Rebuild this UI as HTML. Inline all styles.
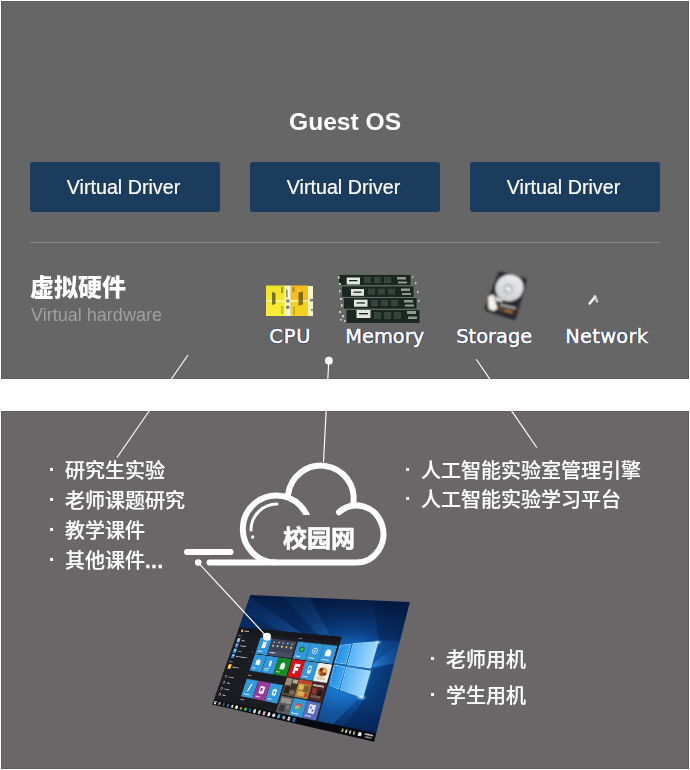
<!DOCTYPE html>
<html lang="zh-CN">
<head>
<meta charset="utf-8">
<title>Guest OS</title>
<style>
html,body{margin:0;padding:0;background:#fff;}
html{width:690px;height:770px;overflow:hidden;}
body{width:690px;height:770px;position:relative;overflow:hidden;font-family:"Liberation Sans","Noto Sans CJK SC",sans-serif;}
.panel{position:absolute;left:1px;width:688px;box-sizing:border-box;}
#top{top:1px;height:378px;background:#666666;border:1px solid #5e5e5e;}
#bot{top:411px;height:358px;background:#6b6768;border:1px solid #625e5f;}
.abs{position:absolute;white-space:nowrap;line-height:1;margin:0;}
.gs{will-change:transform;}
.btn{position:absolute;top:162px;width:190px;height:50px;border-radius:3px;background:#1c3c5e;color:#fff;font-size:19.7px;line-height:50px;text-align:center;text-indent:-3px;-webkit-text-stroke:0.2px #fff;}
.lbl{color:#fff;font-size:19.4px;font-family:"DejaVu Sans","Liberation Sans",sans-serif;-webkit-text-stroke:0.6px #fff;text-shadow:1.1px 0 0.4px rgba(18,30,70,.75), -1.1px 0 0.4px rgba(18,30,70,.6), 0 1.1px 0.4px rgba(18,30,70,.6), 0 -1px 0.4px rgba(18,30,70,.45);}
.li{color:#fff;font-size:20px;font-weight:500;height:20px;}
.li .t{-webkit-text-stroke:0.15px #fff;}
.li .d{font-weight:bold;letter-spacing:0.7px;-webkit-text-stroke:0.3px #fff;}
.li .b{position:absolute;left:1.1px;top:-1.7px;width:10px;text-align:center;font-weight:bold;font-size:20.5px;line-height:20px;}
.li .t{position:absolute;top:0;line-height:20px;}
#lines{position:absolute;left:0;top:0;width:690px;height:770px;}
#scr{position:absolute;left:200px;top:560px;width:300px;height:200px;transform-origin:0 0;transform:matrix3d(0.39093075,-0.00516008,0.00000000,-0.00067208,-0.19408620,0.50502413,0.00000000,-0.00029395,0.00000000,0.00000000,1.00000000,0.00000000,50.30000000,35.00000000,0.00000000,1.00000000);}
</style>
</head>
<body>
<div class="panel" id="top"></div>
<div class="panel" id="bot"></div>

<div class="abs gs" id="title" style="left:288.5px;top:110px;font-size:24.6px;font-weight:bold;color:#fff;">Guest OS</div>
<div class="btn gs" style="left:30px;">Virtual Driver</div>
<div class="btn gs" style="left:250px;">Virtual Driver</div>
<div class="btn gs" style="left:470px;">Virtual Driver</div>
<div class="abs" style="left:30px;top:242px;width:630px;height:1px;background:#8a8a8a;"></div>

<div class="abs gs" id="vh" style="left:29.5px;top:275.5px;font-size:24px;font-weight:900;color:#fff;">虚拟硬件</div>
<div class="abs gs" id="vh2" style="left:30.7px;top:306px;font-size:18.05px;color:#a0a0a0;">Virtual hardware</div>

<div class="abs lbl" id="l1" style="left:269.3px;top:327px;letter-spacing:0.8px;">CPU</div>
<div class="abs lbl" id="l2" style="left:345.3px;top:327px;">Memory</div>
<div class="abs lbl" id="l3" style="left:456.3px;top:327px;">Storage</div>
<div class="abs lbl" id="l4" style="left:565.2px;top:327px;letter-spacing:0.3px;">Network</div>

<svg id="lines" viewBox="0 0 690 770">
<!-- icons -->
<defs>
<filter id="soft" x="-10%" y="-10%" width="120%" height="120%"><feGaussianBlur stdDeviation="0.45"/></filter>
<filter id="soft3" x="-30%" y="-30%" width="160%" height="160%"><feGaussianBlur stdDeviation="0.55"/></filter>
<filter id="soft2" x="-20%" y="-20%" width="140%" height="140%"><feGaussianBlur stdDeviation="0.8"/></filter>
<linearGradient id="cpuL" x1="0" y1="0" x2="0" y2="1"><stop offset="0" stop-color="#efe226"/><stop offset="1" stop-color="#f7ee3a"/></linearGradient>
<linearGradient id="plat" x1="0" y1="1" x2="1" y2="0"><stop offset="0" stop-color="#c9cacd"/><stop offset="1" stop-color="#f1f1f2"/></linearGradient>
</defs>
<g id="cpu" filter="url(#soft)">
<rect x="266" y="285.5" width="19" height="30.5" fill="url(#cpuL)"/>
<rect x="284.8" y="285.5" width="6" height="30.5" fill="#fbf9da"/>
<rect x="290.8" y="285.5" width="17.7" height="15" fill="#f6bd1e"/>
<rect x="290.8" y="300.5" width="17.7" height="15.5" fill="#f5d020"/>
<rect x="308" y="286" width="5" height="30" fill="#f8f4cc"/>
<rect x="310" y="299" width="3.5" height="2.4" fill="#777"/>
<rect x="311" y="309" width="2.5" height="2" fill="#888"/>
<rect x="266" y="300" width="42" height="1.6" fill="#f7f3a4"/>
<rect x="286" y="289.5" width="1.6" height="8" fill="#8a8a80"/>
<circle cx="287.8" cy="301" r="1.8" fill="#777"/>
<circle cx="287.8" cy="307.3" r="1.8" fill="#777"/>
<path d="M272 292 l3.5 1 v11 l-3.5 1z" fill="#55550c" opacity=".8"/>
<path d="M281 287 h2.2 v6 h-2.2z" fill="#6a6a10" opacity=".6"/>
<path d="M281 306 h2.2 v8 h-2.2z" fill="#8a8a10" opacity=".45"/>
<path d="M298.5 292.5 l4.5 -1 v13 l-4.5 1z" fill="#5a4a0c" opacity=".75"/>
<path d="M292.5 287 h2 v5 h-2z" fill="#6a5a10" opacity=".55"/>
<path d="M293 307 h2 v8 h-2z" fill="#8a7a10" opacity=".4"/>
</g>
<g id="mem" filter="url(#soft)">
<g fill="#1d2821" stroke="#6d7d6f" stroke-width="0.7">
<rect x="338.5" y="274.3" width="72.5" height="11.5"/>
<rect x="341.5" y="286" width="72.5" height="11.3"/>
<rect x="343.5" y="297.6" width="73.5" height="11.5"/>
<rect x="346" y="309.5" width="74" height="13.8"/>
</g>
<g fill="#e2e6e2">
<rect x="346.7" y="277.5" width="13.3" height="7"/>
<rect x="351" y="289" width="13" height="6.8"/>
<rect x="354" y="299.7" width="13.5" height="7"/>
<rect x="356.5" y="310" width="14" height="8"/>
</g>
<g fill="#1d2821">
<rect x="349" y="280" width="8.5" height="1.3"/><rect x="353.5" y="291.5" width="8" height="1.3"/><rect x="356.5" y="302.3" width="8.5" height="1.3"/><rect x="359" y="313" width="9" height="1.4"/>
</g>
<g fill="#35443a">
<rect x="364" y="277" width="7" height="6"/><rect x="374" y="277" width="7" height="6"/><rect x="384" y="277" width="7" height="6"/>
<rect x="368" y="288.5" width="7" height="6"/><rect x="378" y="288.5" width="7" height="6"/><rect x="388" y="288.5" width="7" height="6"/>
<rect x="371" y="300" width="7" height="6"/><rect x="381" y="300" width="7" height="6"/><rect x="391" y="300" width="7" height="6"/>
<rect x="374" y="312" width="7" height="7"/><rect x="384" y="312" width="7" height="7"/><rect x="394" y="312" width="7" height="7"/>
</g>
<g fill="#8f9b91">
<rect x="397" y="277" width="9" height="2.5"/><rect x="398" y="281.5" width="9" height="2"/>
<rect x="401" y="288.5" width="9" height="2.5"/><rect x="402" y="293" width="9" height="2"/>
<rect x="404" y="300" width="9" height="2.5"/><rect x="405" y="304.5" width="9" height="2"/>
<rect x="407" y="311" width="9" height="3"/><rect x="408" y="316.5" width="9" height="2.5"/>
</g>
<g fill="#dfe8df" opacity=".8">
<rect x="338" y="276" width="1.5" height="3"/><rect x="339" y="283" width="2" height="2"/><rect x="339" y="290" width="1.5" height="2.5"/><rect x="340" y="298" width="2" height="2"/><rect x="341" y="304" width="1.6" height="3"/><rect x="339" y="311" width="2" height="2"/><rect x="342" y="315" width="2" height="2.5"/><rect x="340" y="319" width="2" height="1.6"/><rect x="344" y="320" width="1.5" height="2"/>
<rect x="412" y="276" width="1.5" height="1.5"/><rect x="415" y="282" width="1.5" height="2"/><rect x="417" y="291" width="1.5" height="2"/><rect x="418" y="300" width="1.5" height="2"/>
</g>
</g>
<g id="hdd" filter="url(#soft2)">
<polygon points="498,273 500.5,271.5 526,278.5 526.5,281 516,319 513.5,320 486,311 484.5,308.5" fill="#2a2c2e"/>
<polygon points="498,275 524,281.5 519,300 492,296" fill="#34373a"/>
<ellipse cx="509.6" cy="288" rx="14" ry="13.2" fill="url(#plat)" transform="rotate(-20 509.3 288.3)"/>
<circle cx="508.3" cy="288.8" r="4.2" fill="#e4e4e6" stroke="#a4a6aa" stroke-width="1.1"/>
<circle cx="508.3" cy="288.8" r="2" fill="#fafafa"/><circle cx="506.6" cy="290.6" r="0.9" fill="#77797d"/><circle cx="510.4" cy="287.6" r="0.9" fill="#77797d"/><circle cx="507" cy="286.6" r="0.8" fill="#8a8c90"/>
<polygon points="488,296.5 493.5,294.5 497.5,308.5 493.5,311 488.5,308.5" fill="#f3f1eb"/>
<polygon points="494.5,296 503,299.5 502,302 496,301" fill="#d9d9d6"/>
<polygon points="499,306 514,310.5 513,314 498.5,310" fill="#5a4630"/>
<polygon points="500,303.5 516,307.5 515.5,309.5 499.5,305.5" fill="#a9a9a4"/>
<polygon points="505,309.4 512,311.4 511.7,313.2 504.7,311.2" fill="#b8743c"/>
</g>
<g id="net" filter="url(#soft3)">
<path d="M589.6 303.6 L594.6 297.4" stroke="#fcfcfc" stroke-width="2.4" stroke-linecap="round"/>
<path d="M595.2 296.2 L597.4 301.6" stroke="#bcc6e6" stroke-width="2" stroke-linecap="round"/>
<circle cx="596.4" cy="300.6" r="1.3" fill="#e6c0b6"/>
<circle cx="594.8" cy="296.6" r="1.3" fill="#d6f0ec"/>
</g>
<!-- connector lines -->
<g stroke="#fff" stroke-width="1.15" fill="none">
<line x1="188" y1="355" x2="117" y2="457.5"/>
<line x1="328.8" y1="360.5" x2="323.5" y2="462"/>
<line x1="476.2" y1="359.2" x2="536.9" y2="447.8"/>
</g>
<circle cx="328.9" cy="360.7" r="3.9" fill="#fff"/>
<circle cx="198.2" cy="562.6" r="3.3" fill="#fff"/>
<!-- mask the gap -->
<rect x="0" y="379" width="690" height="32" fill="#fff"/>
<!-- cloud -->
<clipPath id="clipL"><rect x="230" y="480" width="100" height="35"/><rect x="230" y="515" width="55" height="60"/></clipPath>
<g stroke="#fff" stroke-width="6" fill="none" stroke-linecap="round">
<line x1="187" y1="552" x2="230.5" y2="552"/>
<path d="M209.5 562.5 H356.4 A27 28.5 0 1 0 339 512.2"/>
<path d="M276.3 562.6 A33.5 33.5 0 1 1 309.8 529.1" clip-path="url(#clipL)" stroke-linecap="butt"/>
<path d="M288.2 494 A32.6 32.6 0 0 1 353.4 503"/>
</g>
<path d="M251 530 A26 26 0 0 1 277 504" stroke="#fff" stroke-width="3" fill="none" stroke-linecap="round"/>
<circle cx="252.7" cy="537" r="1.7" fill="#fff"/>
</svg>

<div class="abs gs" id="cloudtxt" style="left:283.2px;top:527.2px;font-size:24px;font-weight:bold;-webkit-text-stroke:0.6px #fff;color:#fff;font-family:'Liberation Sans','Noto Sans CJK SC',sans-serif;">校园网</div>




<div class="abs li gs" id="a1" style="left:46.3px;top:460.7px;"><span class="b">·</span><span class="t" style="left:18.9px">研究生实验</span></div>
<div class="abs li gs" id="a2" style="left:46.3px;top:490.7px;"><span class="b">·</span><span class="t" style="left:18.9px">老师课题研究</span></div>
<div class="abs li gs" id="a3" style="left:46.3px;top:520.7px;"><span class="b">·</span><span class="t" style="left:18.9px">教学课件</span></div>
<div class="abs li gs" id="a4" style="left:46.3px;top:550.7px;"><span class="b">·</span><span class="t" style="left:18.9px">其他课件<span class="d">...</span></span></div>
<div class="abs li gs" id="b1" style="left:401.8px;top:460.7px;"><span class="b">·</span><span class="t" style="left:19.0px">人工智能实验室管理引擎</span></div>
<div class="abs li gs" id="b2" style="left:401.8px;top:490.2px;"><span class="b">·</span><span class="t" style="left:19.0px">人工智能实验学习平台</span></div>
<div class="abs li gs" id="c1" style="left:427.3px;top:650px;"><span class="b">·</span><span class="t" style="left:19px">老师用机</span></div>
<div class="abs li gs" id="c2" style="left:427.3px;top:686px;"><span class="b">·</span><span class="t" style="left:19px">学生用机</span></div>
<div id="scr"><svg width="300" height="200" viewBox="0 0 300 200">
<defs>
<radialGradient id="bg" cx="230" cy="110" r="120" gradientUnits="userSpaceOnUse">
<stop offset="0" stop-color="#2f9cec"/><stop offset="0.16" stop-color="#1c80d6"/><stop offset="0.32" stop-color="#1262b6"/><stop offset="0.52" stop-color="#0c4892"/><stop offset="0.76" stop-color="#0a3878"/><stop offset="1" stop-color="#082d66"/>
</radialGradient>
<linearGradient id="paneR" x1="0" y1="0" x2="1" y2="0">
<stop offset="0" stop-color="#55b2f4"/><stop offset="1" stop-color="#a4dafd"/>
</linearGradient>
<linearGradient id="paneL" x1="0" y1="0" x2="1" y2="0">
<stop offset="0" stop-color="#2590e6"/><stop offset="1" stop-color="#3ea6f0"/>
</linearGradient>
<linearGradient id="beamL" x1="226" y1="104" x2="40" y2="20" gradientUnits="userSpaceOnUse">
<stop offset="0" stop-color="#57b6ff" stop-opacity=".6"/><stop offset=".5" stop-color="#2a7ed6" stop-opacity=".35"/><stop offset="1" stop-color="#1a5fb4" stop-opacity=".12"/>
</linearGradient>
<linearGradient id="beamR" x1="262" y1="104" x2="300" y2="75" gradientUnits="userSpaceOnUse">
<stop offset="0" stop-color="#57b6ff" stop-opacity=".5"/><stop offset="1" stop-color="#1a6ac0" stop-opacity=".1"/>
</linearGradient>
<linearGradient id="dark" x1="0" y1="0" x2="0" y2="1">
<stop offset="0" stop-color="#04163a" stop-opacity=".8"/><stop offset=".14" stop-color="#04163a" stop-opacity=".4"/><stop offset=".34" stop-color="#04163a" stop-opacity="0"/><stop offset=".75" stop-color="#04163a" stop-opacity="0"/><stop offset="1" stop-color="#04163a" stop-opacity=".45"/>
</linearGradient>
<radialGradient id="flare" cx=".5" cy=".5" r=".5"><stop offset="0" stop-color="#e8f6ff" stop-opacity=".95"/><stop offset="1" stop-color="#7cc8ff" stop-opacity="0"/></radialGradient>
</defs>
<rect width="300" height="200" fill="url(#bg)"/>
<rect width="300" height="200" fill="url(#dark)"/>
<g transform="translate(0.7,-1)">
<polygon points="226,104 0,4 0,34" fill="url(#beamL)"/>
<polygon points="228,104 70,0 125,0" fill="url(#beamL)" opacity=".45"/>
<polygon points="262,104 300,62 300,92" fill="url(#beamR)"/>
<polygon points="210,138 262,146 225,201 130,201" fill="#2a96f0" opacity=".28"/>
<polygon points="270,104 301,92 301,201 245,201 268,150" fill="#04204c" opacity=".4"/>
<polygon points="240,-1 301,-1 301,60 268,62" fill="#04183c" opacity=".35"/>
<polygon points="206.5,74 268.5,62.5 268,148.5 208.5,139" fill="#0c58ac" opacity=".55"/>
<g stroke="#c8eaff" stroke-width="0.8" stroke-opacity=".9" stroke-linejoin="round">
<polygon points="207.8,75.5 225.3,71.7 226,102.2 207.6,102.6" fill="url(#paneL)"/>
<polygon points="228.3,70.5 267.5,63.7 266.7,104 228.9,102.9" fill="url(#paneR)"/>
<polygon points="207.5,106.4 226.2,107 225.8,139.9 209.9,137.4" fill="url(#paneL)"/>
<polygon points="228.7,106.9 267.5,107.7 266.8,146.8 228.6,140.5" fill="url(#paneR)"/>
</g>
<ellipse cx="264" cy="146" rx="9" ry="5" fill="url(#flare)"/>
<ellipse cx="267" cy="65" rx="7" ry="4" fill="url(#flare)" opacity=".8"/>
<rect x="-2" y="62" width="208.5" height="132" fill="#1a1c22"/>
<rect x="-2" y="62" width="208.5" height="9" fill="#15171c"/>
<rect x="54.05" y="76.55" width="24.4" height="28.4" fill="#3397d8"/><rect x="62.5" y="83" width="8" height="11" fill="#e8f2fa"/><rect x="57.5" y="99" width="10" height="1.6" fill="#cfe6f6"/>
<rect x="79.05" y="76.55" width="49.4" height="28.4" fill="#3b4157"/><circle cx="85.5" cy="88" r="1.9" fill="#d9cc84"/><rect x="83.5" y="81" width="4" height="1.6" fill="#b8c0cc"/><circle cx="94.5" cy="88" r="1.9" fill="#d9cc84"/><rect x="92.5" y="81" width="4" height="1.6" fill="#b8c0cc"/><circle cx="103.5" cy="88" r="1.9" fill="#d9cc84"/><rect x="101.5" y="81" width="4" height="1.6" fill="#b8c0cc"/><circle cx="112.5" cy="88" r="1.9" fill="#d9cc84"/><rect x="110.5" y="81" width="4" height="1.6" fill="#b8c0cc"/><circle cx="121.5" cy="88" r="1.9" fill="#d9cc84"/><rect x="119.5" y="81" width="4" height="1.6" fill="#b8c0cc"/><rect x="79.5" y="97" width="48.5" height="7.5" fill="#474d66"/><rect x="82.5" y="99" width="12" height="1.6" fill="#c8d0dc"/>
<rect x="54.05" y="106.05" width="24.4" height="28.4" fill="#3397d8"/><path d="M61.5 123 v-7 l4.5 -3 4.5 3 v7z" fill="#eef6fc"/><rect x="57.5" y="128.5" width="7" height="1.6" fill="#cfe6f6"/>
<rect x="79.05" y="106.05" width="24.4" height="28.4" fill="#3397d8"/><rect x="89.0" y="113" width="4.5" height="10" rx="1" fill="#e4f1fb"/><rect x="82.5" y="126" width="10" height="1.5" fill="#cfe6f6"/><rect x="82.5" y="129" width="8" height="1.5" fill="#cfe6f6"/>
<rect x="104.05" y="106.05" width="25.4" height="28.4" fill="#168a27"/><path d="M112.5 116 h8 v8 h-8z M114.5 116 v-2 h4 v2" fill="#eef8f0" stroke="#eef8f0" stroke-width="1"/><rect x="107.5" y="128.5" width="7" height="1.6" fill="#cfe8d4"/>
<rect x="54.05" y="148.55" width="24.4" height="29.4" fill="#3397d8"/><path d="M64.0 167 L68.0 156" stroke="#fff" stroke-width="2.6" stroke-linecap="round"/><rect x="57.5" y="172.5" width="13" height="1.6" fill="#cfe6f6"/>
<rect x="79.05" y="148.55" width="24.4" height="29.4" fill="#993a97"/><rect x="86.5" y="156" width="10" height="12" rx="1" fill="#f4eaf4"/><rect x="88.5" y="159" width="4" height="5" fill="#993a97"/><rect x="82.5" y="172.5" width="10" height="1.6" fill="#e6cfe6"/>
<rect x="104.05" y="148.55" width="24.4" height="29.4" fill="#3397d8"/><rect x="112.5" y="157" width="8" height="10" rx="2" fill="#eef6fc"/><circle cx="116.5" cy="162" r="2" fill="#3397d8"/><rect x="107.5" y="172.5" width="8" height="1.6" fill="#cfe6f6"/>
<rect x="131.05" y="76.55" width="23.9" height="28.4" fill="#3397d8"/><rect x="134.5" y="99.5" width="9" height="1.6" fill="#cfe6f6"/>
<rect x="155.35000000000002" y="76.55" width="23.9" height="28.4" fill="#3397d8"/><rect x="158.8" y="99.5" width="11" height="1.6" fill="#cfe6f6"/>
<rect x="179.55" y="76.55" width="23.9" height="28.4" fill="#3397d8"/><rect x="183" y="99.5" width="13" height="1.6" fill="#cfe6f6"/>
<circle cx="143.0" cy="88.5" r="4.6" fill="#1e2a1e"/><circle cx="143.0" cy="88.5" r="3.2" fill="#2ccc46"/>
<circle cx="167.3" cy="88.5" r="4.3" fill="none" stroke="#dcedfa" stroke-width="1.2"/><circle cx="167.3" cy="88.5" r="1.5" fill="#dcedfa"/>
<path d="M187 86 h9 v8 h-9z M189 86 v-2 h5 v2" fill="#f6fafd" stroke="#f6fafd" stroke-width=".8"/>
<rect x="131.05" y="106.05" width="23.9" height="28.4" fill="#d5131c"/><path d="M138.5 112.5 h10.5 v4 h-6 v2.6 h4.5 v3.8 h-4.5 v5 h-4.5z" fill="#fff"/>
<rect x="155.35000000000002" y="106.05" width="23.9" height="28.4" fill="#3397d8"/><rect x="164.3" y="112.5" width="6.5" height="12" rx="1" fill="#dcedfa"/><rect x="165.8" y="114.5" width="3.5" height="5" fill="#3397d8"/><rect x="158.8" y="129" width="9" height="1.6" fill="#cfe6f6"/>
<rect x="179.55" y="106.05" width="24.4" height="28.4" fill="#f3efe9"/><ellipse cx="191.5" cy="119" rx="8" ry="7" fill="#c98a4a"/><circle cx="188" cy="116" r="3" fill="#7c2c18"/><circle cx="194.5" cy="116.5" r="2.6" fill="#e9c060"/><circle cx="191" cy="122" r="3" fill="#a84a26"/><circle cx="196" cy="122" r="2" fill="#5a2414"/><rect x="184" y="127" width="15" height="4" fill="#d9ccb0"/>
<rect x="131.05" y="135.55" width="23.9" height="27.4" fill="#5d4d3f"/><rect x="131.5" y="136" width="11" height="11" fill="#958a78"/><rect x="143.5" y="139" width="11" height="14" fill="#3a3028"/><rect x="133.5" y="149" width="10" height="11" fill="#2c2620"/><rect x="144.5" y="137" width="9" height="6" fill="#b8a88c"/><rect x="144.5" y="154" width="8" height="6" fill="#7a6a58"/>
<rect x="155.35000000000002" y="135.55" width="23.9" height="27.4" fill="#a57c3a"/><rect x="155.8" y="136" width="23" height="5" fill="#c8402c"/><rect x="157.8" y="142.5" width="9" height="8" fill="#e0b84c"/><rect x="167.8" y="144" width="9" height="9" fill="#7c5c2a"/><rect x="158.8" y="153" width="12" height="7" fill="#d0b058"/><rect x="171.8" y="155" width="5" height="5" fill="#c8402c"/>
<rect x="179.55" y="135.55" width="24.4" height="27.4" fill="#4c2626"/><rect x="182" y="139" width="19" height="3" fill="#c0b0a8"/><rect x="183" y="145" width="8" height="8" fill="#903434"/><rect x="193" y="147" width="8" height="9" fill="#2a1818"/><rect x="183" y="155" width="17" height="4" fill="#705850"/>
<rect x="131.05" y="164.55" width="23.9" height="26.9" fill="#5c5c5c"/><rect x="133.5" y="167" width="19" height="8" fill="#939391"/><rect x="134.5" y="178" width="10" height="10" fill="#3a3a3a"/><rect x="145.5" y="177" width="7" height="5" fill="#787876"/>
<rect x="155.35000000000002" y="164.55" width="23.9" height="26.9" fill="#3397d8"/><circle cx="167.3" cy="176" r="5.2" fill="#ecbc22"/><path d="M162.10000000000002 176 a5.2 5.2 0 0 1 10.4 0z" fill="#dc3c2c"/><path d="M167.3 176 l5.2 0 a5.2 5.2 0 0 1 -7.8 4.5z" fill="#3aac4a"/><circle cx="167.3" cy="176" r="2.2" fill="#3c7ce4" stroke="#fff" stroke-width=".8"/><rect x="158.8" y="186" width="13" height="1.6" fill="#cfe6f6"/>
<rect x="179.55" y="164.55" width="24.4" height="26.9" fill="#5a6abe"/><rect x="186" y="169" width="11" height="13" fill="#eef0fa" opacity=".92"/><rect x="188" y="172" width="3" height="3" fill="#5a6abe"/><rect x="192" y="176" width="3" height="3" fill="#5a6abe"/><rect x="183" y="185.5" width="10" height="1.6" fill="#d4d8f0"/>
<circle cx="9" cy="68.5" r="2.6" fill="#e8a060"/><circle cx="9" cy="67.2" r="1.2" fill="#f6e0c8"/><rect x="14" y="67.5" width="11" height="1.6" fill="#bdbdbd"/>
<rect x="4" y="77" width="9" height="1.2" fill="#8a8a8a"/>
<rect x="5" y="82.0" width="6.5" height="7.5" fill="#6ab4ee"/><rect x="6.5" y="83.5" width="3" height="2.5" fill="#f0f6fc" opacity=".8"/><rect x="15" y="85.0" width="8" height="1.5" fill="#b4b4b4"/>
<rect x="5" y="91.5" width="6.5" height="7.5" fill="#3a7cdc"/><rect x="6.5" y="93.0" width="3" height="2.5" fill="#f0f6fc" opacity=".8"/><rect x="15" y="94.5" width="15" height="1.5" fill="#b4b4b4"/>
<rect x="5" y="101.0" width="6.5" height="7.5" fill="#3aacdc"/><rect x="6.5" y="102.5" width="3" height="2.5" fill="#f0f6fc" opacity=".8"/><rect x="15" y="104.0" width="8" height="1.5" fill="#b4b4b4"/>
<rect x="5" y="110.5" width="6.5" height="7.5" fill="#2a8cdc"/><rect x="6.5" y="112.0" width="3" height="2.5" fill="#f0f6fc" opacity=".8"/><rect x="15" y="113.5" width="25" height="1.5" fill="#b4b4b4"/>
<rect x="4" y="124" width="9" height="1.2" fill="#8a8a8a"/>
<rect x="5" y="129" width="7" height="8.5" fill="#eaa81e"/><rect x="6.5" y="131" width="4" height="4.5" fill="#fbe8b0"/><rect x="15" y="132.5" width="15" height="1.5" fill="#b4b4b4"/>
<circle cx="8" cy="150.8" r="2" fill="none" stroke="#c4c4c4" stroke-width=".9"/><rect x="14" y="150.0" width="11" height="1.5" fill="#b0b0b0"/>
<circle cx="8" cy="161.3" r="2" fill="none" stroke="#c4c4c4" stroke-width=".9"/><rect x="14" y="160.5" width="8" height="1.5" fill="#b0b0b0"/>
<circle cx="8" cy="171.8" r="2" fill="none" stroke="#c4c4c4" stroke-width=".9"/><rect x="14" y="171.0" width="11" height="1.5" fill="#b0b0b0"/>
<circle cx="8" cy="182.3" r="2" fill="none" stroke="#c4c4c4" stroke-width=".9"/><rect x="14" y="181.5" width="8" height="1.5" fill="#b0b0b0"/>
<path d="M46 102 l1.5 1.5 -1.5 1.5 M46 118 l1.5 1.5 -1.5 1.5 M46 160 l1.5 1.5 -1.5 1.5" stroke="#999" stroke-width=".7" fill="none"/>
<rect x="54.5" y="70.5" width="10" height="1.4" fill="#a0a0a0"/><rect x="131.5" y="70.5" width="6" height="1.4" fill="#a0a0a0"/><rect x="54.5" y="141.5" width="7" height="1.4" fill="#a0a0a0"/><rect x="54.5" y="182" width="8" height="1.4" fill="#a0a0a0"/>
</g>
<polygon points="0,191.5 300,188.6 300,200 0,200" fill="#07090f"/>
<path d="M2.6 193.2 h2.2 v2.4 h-2.2z M5.3 193.2 h2.4 v2.4 h-2.4z M2.6 196.1 h2.2 v2.4 h-2.2z M5.3 196.1 h2.4 v2.4 h-2.4z" fill="#fafafa"/>
<circle cx="15.0" cy="195.6" r="2.8" fill="#8c8c94"/>
<rect x="22.2" y="192.6" width="4.6" height="6" rx="1.2" fill="#4a4a56"/>
<ellipse cx="34.1" cy="195.5" rx="1.9" ry="2.9" fill="#2a7ce0"/>
<rect x="41.7" y="192.9" width="4.2" height="5.2" rx=".8" fill="#e8dc8c"/><rect x="41.7" y="195.5" width="4.2" height="2.6" fill="#7cd4a0"/>
<circle cx="53.2" cy="195.4" r="2.8" fill="#f4f4f4"/>
<circle cx="62.8" cy="195.4" r="2.5" fill="#e8c030"/><path d="M60.2 195.4 a2.5 2.5 0 0 1 5 0z" fill="#e0402c"/><path d="M62.8 195.4 h2.5 a2.5 2.5 0 0 1 -3.7 2.2z" fill="#38b04a"/>
<circle cx="72.3" cy="195.4" r="2.8" fill="#34b848"/>
<circle cx="81.9" cy="195.3" r="2.1" fill="none" stroke="#22a8ec" stroke-width="1.2"/>
<rect x="89.1" y="192.3" width="4.6" height="6" rx="1.2" fill="#dcecc8"/>
<rect x="98.7" y="192.2" width="4.6" height="6" rx="1.2" fill="#a4dcb8"/>
<rect x="108.2" y="192.2" width="4.6" height="6" rx="1.2" fill="#e4b0e0"/>
<rect x="117.8" y="192.2" width="4.6" height="6" rx="1.2" fill="#f4f4f4"/>
<circle cx="129.6" cy="195.1" r="2.8" fill="#ececec"/>
<rect x="136.8" y="192.1" width="4.6" height="6" rx="1.2" fill="#34b8ec"/>
<circle cx="148.7" cy="195.0" r="2.8" fill="#8c9cb0"/>
<rect x="155.9" y="192.0" width="4.6" height="6" rx="1.2" fill="#c4d4e4"/>
<rect x="165.5" y="192.0" width="4.6" height="6" rx="1.2" fill="#2a6cb0"/>
<rect x="249" y="192.4" width="2.6" height="4.4" fill="#a0dc3c"/>
<rect x="255" y="192.4" width="2.6" height="4.4" fill="#e8e8e8"/>
<rect x="261" y="192.4" width="2.6" height="4.4" fill="#d8d8d8"/>
<rect x="267" y="192.4" width="2.6" height="4.4" fill="#b8b8b8"/>
<circle cx="277" cy="194.4" r="2.7" fill="#fafafa"/>
<rect x="284" y="191.6" width="12" height="2" fill="#d0d0d0"/><rect x="285" y="195.4" width="10" height="1.8" fill="#9c9c9c"/>
</svg></div>
<svg class="abs" style="left:0;top:0;width:690px;height:770px;pointer-events:none" viewBox="0 0 690 770">
<line x1="198.2" y1="562.6" x2="267" y2="636.8" stroke="#fff" stroke-width="1.15"/>
<circle cx="267" cy="636.8" r="4" fill="#fff"/>
</svg>
</body>
</html>
